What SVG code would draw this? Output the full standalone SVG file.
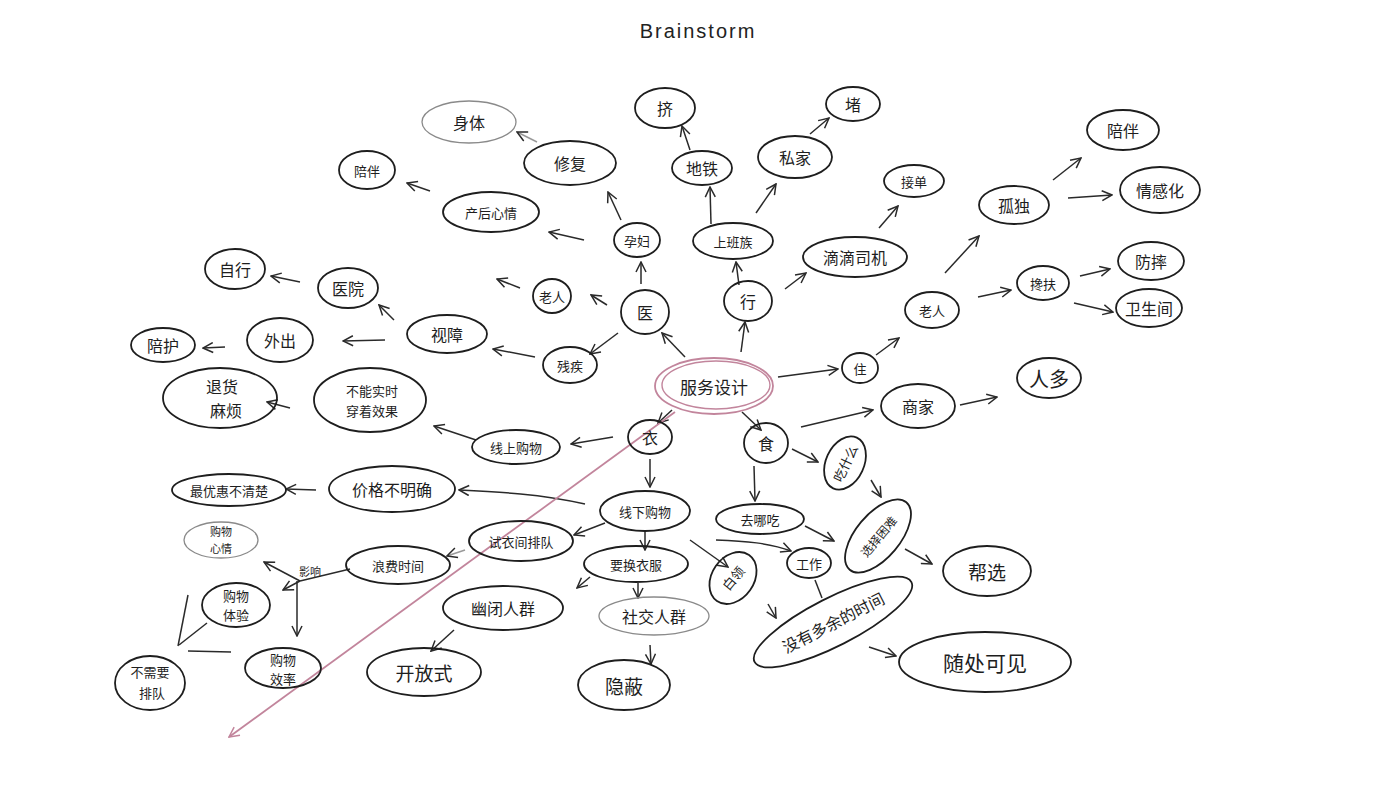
<svg xmlns="http://www.w3.org/2000/svg" width="1400" height="788" viewBox="0 0 1400 788">
<style>
.n{fill:none;stroke:#1e1e1e;stroke-width:1.8}
.g{fill:none;stroke:#8a8a8a;stroke-width:1.3}
.t{font-family:"Noto Sans CJK SC","Noto Sans",sans-serif;font-size:16px;fill:#1e1e1e;text-anchor:middle;dominant-baseline:central}
.s{font-size:13px}
.c line,.c path{fill:none;stroke:#2a2a2a;stroke-width:1.5;marker-end:url(#ah)}
</style>
<defs>
<marker id="ah" viewBox="0 0 12 12" refX="11" refY="6" markerWidth="12" markerHeight="12" markerUnits="userSpaceOnUse" orient="auto">
<path d="M1,1 L11,6 L1,11" fill="none" stroke="#2a2a2a" stroke-width="1.5"/>
</marker>
<marker id="ahp" viewBox="0 0 12 12" refX="11" refY="6" markerWidth="12" markerHeight="12" markerUnits="userSpaceOnUse" orient="auto">
<path d="M1,1 L11,6 L1,11" fill="none" stroke="#c2859c" stroke-width="1.5"/>
</marker>
</defs>
<rect width="1400" height="788" fill="#ffffff"/>
<text x="698" y="31" style="font-family:'Liberation Sans',Roboto,sans-serif;font-size:20px;letter-spacing:2px;fill:#222;text-anchor:middle;dominant-baseline:central">Brainstorm</text>

<g id="connectors" class="c">
<line x1="685" y1="357" x2="662" y2="333"/>
<line x1="741" y1="352" x2="745" y2="322"/>
<line x1="778" y1="377" x2="838" y2="369"/>
<line x1="742" y1="412" x2="761" y2="430"/>
<line x1="672" y1="410" x2="658" y2="423"/>
<line x1="641" y1="284" x2="641" y2="262"/>
<line x1="607" y1="305" x2="591" y2="295"/>
<line x1="618" y1="333" x2="590" y2="354"/>
<line x1="621" y1="220" x2="608" y2="192"/>
<line x1="584" y1="240" x2="549" y2="232"/>
<line x1="537" y1="142" x2="517" y2="132" style="stroke:#999"/>
<line x1="430" y1="191" x2="407" y2="183"/>
<line x1="520" y1="288" x2="497" y2="279"/>
<line x1="535" y1="357" x2="493" y2="349"/>
<line x1="394" y1="320" x2="379" y2="305"/>
<line x1="385" y1="340" x2="343" y2="341"/>
<line x1="300" y1="282" x2="271" y2="276"/>
<line x1="225" y1="347" x2="203" y2="348"/>
<line x1="290" y1="408" x2="267" y2="402"/>
<line x1="476" y1="440" x2="434" y2="426"/>
<line x1="613" y1="437" x2="571" y2="444"/>
<line x1="650" y1="459" x2="650" y2="487"/>
<line x1="739" y1="285" x2="736" y2="262"/>
<line x1="711" y1="224" x2="710" y2="187"/>
<line x1="756" y1="213" x2="776" y2="184"/>
<line x1="690" y1="150" x2="682" y2="126"/>
<line x1="810" y1="134" x2="829" y2="118"/>
<line x1="785" y1="289" x2="806" y2="273"/>
<line x1="879" y1="228" x2="898" y2="206"/>
<line x1="876" y1="355" x2="899" y2="338"/>
<line x1="945" y1="273" x2="979" y2="236"/>
<line x1="978" y1="297" x2="1011" y2="290"/>
<line x1="1053" y1="180" x2="1081" y2="158"/>
<line x1="1068" y1="198" x2="1112" y2="195"/>
<line x1="1080" y1="276" x2="1110" y2="269"/>
<line x1="1074" y1="303" x2="1113" y2="312"/>
<line x1="801" y1="427" x2="873" y2="410"/>
<line x1="960" y1="405" x2="997" y2="397"/>
<line x1="792" y1="449" x2="818" y2="462"/>
<line x1="871" y1="480" x2="881" y2="497"/>
<line x1="754" y1="466" x2="755" y2="501"/>
<line x1="805" y1="526" x2="834" y2="541"/>
<line x1="905" y1="549" x2="932" y2="564"/>
<path d="M585,504 C540,494 500,492 459,490"/>
<line x1="316" y1="490" x2="286" y2="489"/>
<line x1="605" y1="523" x2="574" y2="535"/>
<line x1="465" y1="550" x2="447" y2="556" style="stroke:#999"/>
<line x1="645" y1="531" x2="645" y2="550"/>
<line x1="590" y1="577" x2="577" y2="588"/>
<line x1="638" y1="583" x2="638" y2="598"/>
<line x1="650" y1="645" x2="651" y2="664"/>
<line x1="454" y1="630" x2="431" y2="651"/>
<line x1="690" y1="540" x2="728" y2="567"/>
<path d="M716,540 C745,541 770,543 791,551"/>
<line x1="815" y1="580" x2="822" y2="598" style="marker-end:none"/>
<line x1="768" y1="604" x2="776" y2="618"/>
<line x1="869" y1="647" x2="896" y2="656"/>
<line x1="350" y1="569" x2="300" y2="581" style="marker-end:none"/>
<line x1="300" y1="581" x2="264" y2="562"/>
<line x1="300" y1="581" x2="283" y2="590"/>
<line x1="297" y1="581" x2="297" y2="636"/>
<line x1="188" y1="595" x2="178" y2="646" style="marker-end:none"/>
<line x1="207" y1="623" x2="179" y2="645" style="marker-end:none"/>
<line x1="231" y1="652" x2="188" y2="651" style="marker-end:none"/>
<line x1="675" y1="412" x2="229" y2="737" style="stroke:#c2859c;stroke-width:1.8;marker-end:url(#ahp)"/>
<text x="310" y="571" class="t" style="font-size:11px">影响</text>
</g>

<g id="center"><ellipse cx="714" cy="386" rx="59" ry="28" fill="none" stroke="#c2859c" stroke-width="1.8"/><ellipse cx="716" cy="385" rx="54" ry="24" fill="none" stroke="#c2859c" stroke-width="1.4"/><text x="714" y="386" class="t" style="font-size:17px">服务设计</text></g>
<g id="yi-med"><ellipse cx="645" cy="312" rx="24" ry="22" class="n"/><text x="645" y="312" class="t">医</text></g>
<g id="xing"><ellipse cx="748" cy="301" rx="24" ry="20" class="n"/><text x="748" y="301" class="t">行</text></g>
<g id="zhu"><ellipse cx="860" cy="368" rx="18" ry="15" class="n"/><text x="860" y="368" class="t s">住</text></g>
<g id="shi"><ellipse cx="766" cy="443" rx="22" ry="20" class="n"/><text x="766" y="443" class="t">食</text></g>
<g id="yi-cloth"><ellipse cx="650" cy="437" rx="22" ry="17" class="n"/><text x="650" y="437" class="t">衣</text></g>
<g id="yunfu"><ellipse cx="637" cy="240" rx="23" ry="17" class="n"/><text x="637" y="240" class="t s">孕妇</text></g>
<g id="xiufu"><ellipse cx="570" cy="163" rx="46" ry="22" class="n"/><text x="570" y="163" class="t">修复</text></g>
<g id="shenti"><ellipse cx="469" cy="122" rx="47" ry="21" class="g"/><text x="469" y="122" class="t">身体</text></g>
<g id="chanhou"><ellipse cx="491" cy="212" rx="48" ry="20" class="n"/><text x="491" y="212" class="t s">产后心情</text></g>
<g id="peiban1"><ellipse cx="367" cy="170" rx="28" ry="19" class="n"/><text x="367" y="170" class="t s">陪伴</text></g>
<g id="laoren1"><ellipse cx="552" cy="296" rx="19" ry="17" class="n"/><text x="552" y="296" class="t s">老人</text></g>
<g id="canji"><ellipse cx="570" cy="365" rx="27" ry="18" class="n"/><text x="570" y="365" class="t s">残疾</text></g>
<g id="shizhang"><ellipse cx="447" cy="334" rx="40" ry="19" class="n"/><text x="447" y="334" class="t">视障</text></g>
<g id="yiyuan"><ellipse cx="348" cy="288" rx="30" ry="20" class="n"/><text x="348" y="288" class="t">医院</text></g>
<g id="zixing"><ellipse cx="235" cy="269" rx="30" ry="20" class="n"/><text x="235" y="269" class="t">自行</text></g>
<g id="waichu"><ellipse cx="280" cy="340" rx="33" ry="22" class="n"/><text x="280" y="340" class="t">外出</text></g>
<g id="peihu"><ellipse cx="163" cy="345" rx="32" ry="17" class="n"/><text x="163" y="345" class="t">陪护</text></g>
<g id="tuihuo"><ellipse cx="220" cy="398" rx="57" ry="30" class="n"/><text x="222" y="386" class="t">退货</text><text x="226" y="410" class="t">麻烦</text></g>
<g id="buneng"><ellipse cx="370" cy="400" rx="56" ry="32" class="n"/><text x="372" y="390" class="t s">不能实时</text><text x="372" y="410" class="t s">穿着效果</text></g>
<g id="xianshang"><ellipse cx="516" cy="447" rx="44" ry="17" class="n"/><text x="516" y="447" class="t s">线上购物</text></g>
<g id="ditie"><ellipse cx="702" cy="168" rx="30" ry="17" class="n"/><text x="702" y="168" class="t">地铁</text></g>
<g id="ji"><ellipse cx="665" cy="108" rx="30" ry="20" class="n"/><text x="665" y="108" class="t">挤</text></g>
<g id="shangban"><ellipse cx="733" cy="241" rx="40" ry="18" class="n"/><text x="733" y="241" class="t s">上班族</text></g>
<g id="sijia"><ellipse cx="795" cy="157" rx="37" ry="21" class="n"/><text x="795" y="157" class="t">私家</text></g>
<g id="du"><ellipse cx="853" cy="104" rx="27" ry="17" class="n"/><text x="853" y="104" class="t">堵</text></g>
<g id="didi"><ellipse cx="855" cy="257" rx="52" ry="20" class="n"/><text x="855" y="257" class="t">滴滴司机</text></g>
<g id="jiedan"><ellipse cx="914" cy="181" rx="30" ry="16" class="n"/><text x="914" y="181" class="t s">接单</text></g>
<g id="laoren2"><ellipse cx="932" cy="310" rx="27" ry="18" class="n"/><text x="932" y="310" class="t s">老人</text></g>
<g id="gudu"><ellipse cx="1014" cy="205" rx="35" ry="19" class="n"/><text x="1014" y="205" class="t">孤独</text></g>
<g id="peiban2"><ellipse cx="1123" cy="130" rx="36" ry="20" class="n"/><text x="1123" y="130" class="t">陪伴</text></g>
<g id="qinggan"><ellipse cx="1160" cy="190" rx="40" ry="23" class="n"/><text x="1160" y="190" class="t">情感化</text></g>
<g id="chanfu"><ellipse cx="1043" cy="283" rx="26" ry="17" class="n"/><text x="1043" y="283" class="t s">搀扶</text></g>
<g id="fangshuai"><ellipse cx="1151" cy="261" rx="33" ry="19" class="n"/><text x="1151" y="261" class="t">防摔</text></g>
<g id="weisheng"><ellipse cx="1149" cy="308" rx="33" ry="19" class="n"/><text x="1149" y="308" class="t">卫生间</text></g>
<g id="shangjia"><ellipse cx="918" cy="406" rx="37" ry="22" class="n"/><text x="918" y="406" class="t">商家</text></g>
<g id="renduo"><ellipse cx="1049" cy="378" rx="32" ry="20" class="n"/><text x="1049" y="378" class="t" style="font-size:20px">人多</text></g>
<g id="chisheme"><ellipse cx="845" cy="463" rx="28" ry="19" transform="rotate(-65 845 463)" class="n"/><text x="845" y="463" class="t s" transform="rotate(-65 845 463)">吃什么</text></g>
<g id="qunachi"><ellipse cx="760" cy="519" rx="44" ry="15" class="n"/><text x="760" y="519" class="t s">去哪吃</text></g>
<g id="xuanze"><ellipse cx="878" cy="536" rx="44" ry="22" transform="rotate(-50 878 536)" class="n"/><text x="878" y="536" class="t" style="font-size:12px" transform="rotate(-50 878 536)">选择困难</text></g>
<g id="bangxuan"><ellipse cx="987" cy="571" rx="44" ry="25" class="n"/><text x="987" y="571" class="t" style="font-size:19px">帮选</text></g>
<g id="bailing"><ellipse cx="733" cy="578" rx="28" ry="21" transform="rotate(-55 733 578)" class="n"/><text x="733" y="578" class="t s" transform="rotate(-50 733 578)">白领</text></g>
<g id="gongzuo"><ellipse cx="809" cy="563" rx="22" ry="15" class="n"/><text x="809" y="563" class="t s">工作</text></g>
<g id="meiyou"><ellipse cx="833" cy="622" rx="88" ry="24" transform="rotate(-27 833 622)" class="n"/><text x="833" y="622" class="t" transform="rotate(-27 833 622)">没有多余的时间</text></g>
<g id="suichu"><ellipse cx="985" cy="662" rx="86" ry="30" class="n"/><text x="985" y="662" class="t" style="font-size:21px">随处可见</text></g>
<g id="xianxia"><ellipse cx="645" cy="511" rx="45" ry="20" class="n"/><text x="645" y="511" class="t s">线下购物</text></g>
<g id="jiage"><ellipse cx="392" cy="489" rx="63" ry="23" class="n"/><text x="392" y="489" class="t">价格不明确</text></g>
<g id="youhui"><ellipse cx="229" cy="490" rx="57" ry="16" class="n"/><text x="229" y="490" class="t s">最优惠不清楚</text></g>
<g id="shiyi"><ellipse cx="521" cy="541" rx="52" ry="20" class="n"/><text x="521" y="541" class="t s">试衣间排队</text></g>
<g id="yaohuan"><ellipse cx="636" cy="564" rx="52" ry="18" class="n"/><text x="636" y="564" class="t s">要换衣服</text></g>
<g id="langfei"><ellipse cx="398" cy="565" rx="52" ry="19" class="n"/><text x="398" y="565" class="t s">浪费时间</text></g>
<g id="shejiao"><ellipse cx="654" cy="616" rx="55" ry="19" class="g"/><text x="654" y="616" class="t">社交人群</text></g>
<g id="youbi"><ellipse cx="503" cy="608" rx="60" ry="22" class="n"/><text x="503" y="608" class="t">幽闭人群</text></g>
<g id="kaifang"><ellipse cx="424" cy="672" rx="57" ry="24" class="n"/><text x="424" y="672" class="t" style="font-size:19px">开放式</text></g>
<g id="yinbi"><ellipse cx="624" cy="685" rx="46" ry="25" class="n"/><text x="624" y="685" class="t" style="font-size:19px">隐蔽</text></g>
<g id="xinqing"><ellipse cx="221" cy="540" rx="37" ry="18" class="g"/><text x="221" y="531" class="t" style="font-size:11px">购物</text><text x="221" y="548" class="t" style="font-size:11px">心情</text></g>
<g id="tiyan"><ellipse cx="236" cy="605" rx="34" ry="22" class="n"/><text x="236" y="595" class="t s">购物</text><text x="236" y="614" class="t s">体验</text></g>
<g id="xiaolv"><ellipse cx="283" cy="668" rx="38" ry="20" class="n"/><text x="283" y="659" class="t s">购物</text><text x="283" y="678" class="t s">效率</text></g>
<g id="paidui"><ellipse cx="150" cy="683" rx="35" ry="27" class="n"/><text x="150" y="671" class="t s">不需要</text><text x="152" y="692" class="t s">排队</text></g>
</svg>
